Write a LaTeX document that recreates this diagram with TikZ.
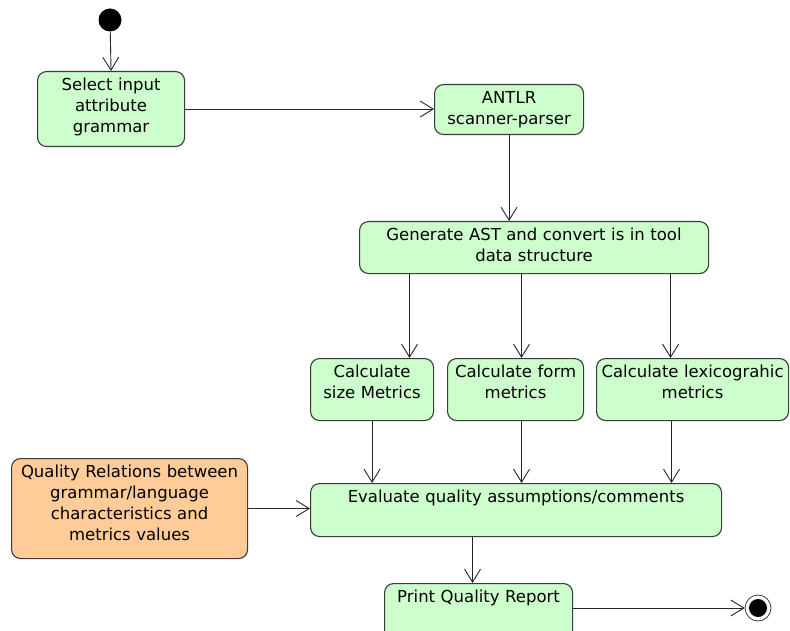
\documentclass[tikz,border=0pt]{standalone}
\usepackage{fontspec}
\setmainfont{DejaVu Sans}
\usetikzlibrary{arrows.meta}
\definecolor{actfill}{HTML}{CCFFCC}
\definecolor{srcfill}{HTML}{FFCC99}
\definecolor{edge}{HTML}{3A3A3A}

\tikzset{
  act/.style={draw=edge, line width=1.1pt, fill=actfill, rounded corners=9pt,
    inner xsep=4pt, inner ysep=6pt, text height=13pt, align=center,
    anchor=north west, font=\fontsize{16.5}{21}\selectfont},
  flow/.style={draw=black!85, line width=0.9pt,
    -{Straight Barb[length=13pt,width=16pt,line width=0.9pt]}},
}

\begin{document}
\begin{tikzpicture}[x=1pt,y=-1pt]
\useasboundingbox (0,0) rectangle (790,631);
\clip (0,0) rectangle (790,631);

% initial and final states
\node[circle, fill=black, minimum size=23pt, inner sep=0pt] (start) at (110,20) {};
\node[circle, draw=edge, line width=0.8pt, fill=white, minimum size=26pt, inner sep=0pt] (stop) at (758,608) {};
\node[circle, fill=black, minimum size=18pt, inner sep=0pt] (stopdot) at (stop) {};

% activities
\node[act, minimum width=147pt, text width=139pt, text depth=50pt] (sel) at (37,71)
  {Select input\\attribute\\grammar};
\node[act, minimum width=149pt, text width=141pt, text depth=25pt] (antlr) at (434,84)
  {ANTLR\\scanner-parser};
\node[act, minimum width=349pt, text width=341pt, text depth=27pt] (gen) at (359,221)
  {Generate AST and convert is in tool\\data structure};
\node[act, minimum width=123pt, text width=115pt, text depth=37pt] (size) at (310,358)
  {Calculate\\size Metrics};
\node[act, minimum width=136pt, text width=128pt, text depth=37pt] (form) at (447,358)
  {Calculate form\\metrics};
\node[act, minimum width=192pt, text width=184pt, text depth=37pt] (lex) at (596,358)
  {Calculate lexicograhic\\metrics};
\node[act, minimum width=411pt, text width=403pt, text depth=28pt] (eval) at (310,483)
  {Evaluate quality assumptions/comments};
\node[act, fill=srcfill, minimum width=236pt, text width=228pt, text depth=75pt] (qual) at (11,458)
  {Quality Relations between\\grammar/language\\characteristics and\\metrics values};
\node[act, minimum width=188pt, text width=180pt, text depth=32pt] (print) at (384,583)
  {Print Quality Report};

% control flow
\draw[flow] (start) -- (sel.north);
\draw[flow] (sel.east) -- (sel.east -| antlr.west);
\draw[flow] (antlr.south) -- (antlr.south |- gen.north);
\draw[flow] ([xshift=37.5]size.north |- gen.south) -- ([xshift=37.5]size.north);
\draw[flow] ([xshift=6]form.north |- gen.south) -- ([xshift=6]form.north);
\draw[flow] ([xshift=-22]lex.north |- gen.south) -- ([xshift=-22]lex.north);
\draw[flow] (size.south) -- (size.south |- eval.north);
\draw[flow] ([xshift=6]form.south) -- ([xshift=6]form.south |- eval.north);
\draw[flow] ([xshift=-21]lex.south) -- ([xshift=-21]lex.south |- eval.north);
\draw[flow] (qual.east) -- (qual.east -| eval.west);
\draw[flow] ([xshift=-6]print.north |- eval.south) -- ([xshift=-6]print.north);
\draw[flow] (print.east |- stop) -- (stop.west);
\end{tikzpicture}
\end{document}
